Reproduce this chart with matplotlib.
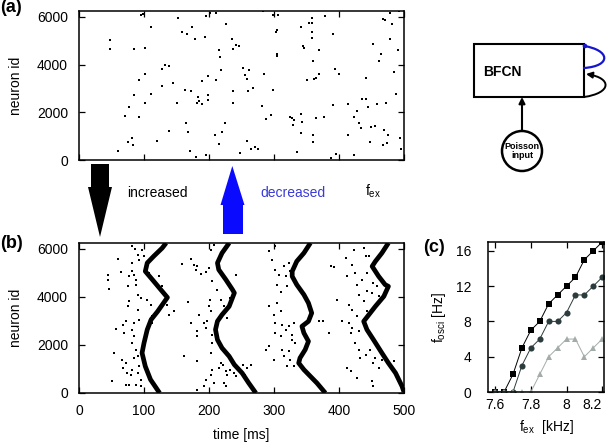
import matplotlib
matplotlib.use("Agg")
import matplotlib.pyplot as plt
from matplotlib.patches import Rectangle, Circle, Polygon, FancyArrowPatch
from matplotlib.path import Path

plt.rcParams['font.family'] = ['Liberation Sans', 'DejaVu Sans']
plt.rcParams['mathtext.fontset'] = 'custom'
plt.rcParams['mathtext.rm'] = 'Liberation Sans'
plt.rcParams['mathtext.it'] = 'Liberation Sans:italic'

# ---------------- data ----------------
# panel (a): sparse spikes (time ms, neuron id)
a_time = [47, 47, 60, 71, 75, 77, 82, 83, 84, 85, 92, 93, 96, 99, 101, 101, 102, 110, 111, 120,
          127, 128, 133, 139, 139, 145, 151, 153, 159, 163, 166, 165, 168, 171, 172, 174, 179, 180,
          183, 184, 182, 189, 189, 194, 195, 196, 199, 199, 199, 201, 209, 210, 211, 215, 216, 217,
          218, 220, 225, 226, 236, 237, 237, 237, 241, 246, 248, 253, 255, 258, 258, 260, 262, 264,
          267, 271, 276, 281, 283, 284, 287, 295, 298, 299, 303, 305, 304, 305, 306, 324, 328, 329,
          330, 336, 341, 342, 343, 342, 345, 346, 350, 354, 358, 358, 359, 359, 360, 360, 360, 361,
          365, 365, 369, 369, 377, 378, 391, 391, 394, 400, 395, 388, 414, 414, 423, 423, 428, 431,
          434, 436, 441, 441, 445, 448, 449, 453, 456, 459, 462, 465, 467, 471, 469, 468, 472, 474,
          476, 478, 479, 481, 484, 488, 491, 494, 496, 493]
a_neuron = [5047, 4670, 390, 1865, 743, 2215, 940, 630, 2706, 4670, 1823, 3365, 6100, 6140, 2383,
            3617, 4697, 5580, 2762, 813, 3827, 3098, 3995, 3925, 1234, 3225, 2411, 5958, 5370, 2916,
            5272, 1542, 1192, 393, 2874, 5580, 5089, 112, 2636, 2481, 2383, 3295, 2341, 5159, 210,
            6028, 3505, 2523, 2706, 6168, 1051, 3365, 6168, 4600, 673, 4320, 3785, 1192, 1570, 5706,
            5075, 2874, 4655, 2383, 4837, 4795, 280, 3855, 3575, 813, 3393, 2874, 3757, 449, 3014,
            561, 449, 2271, 6238, 3617, 1724, 1893, 2916, 6100, 5356, 5440, 4460, 4348, 6100, 1823,
            1753, 1473, 1683, 351, 5580, 1921, 1584, 1150, 4795, 4697, 3365, 5748, 5958, 5370, 5117,
            5748, 4164, 1051, 771, 3393, 1753, 3435, 4627, 3617, 1823, 6056, 5286, 2313, 3827, 3617,
            252, 70, 2355, 1051, 210, 1823, 2075, 1542, 1360, 2551, 2551, 3435, 2215, 771, 1402,
            4865, 1444, 2355, 4136, 4460, 5916, 5860, 1262, 630, 2411, 700, 1051, 5075, 6168, 5720,
            3673, 2762, 4627, 911, 449, 6238]

# panel (b): synchronous wave fronts (time ms, neuron id)
w1_time = [124, 110, 102, 97, 100, 105, 111, 121, 136, 126, 113, 102, 105, 115, 128, 134]
w1_neuron = [0, 560, 1110, 1670, 2080, 2640, 3060, 3400, 3980, 4300, 4720, 5070, 5420, 5700, 6040, 6250]
w2_time = [272, 261, 251, 239, 231, 220, 213, 210, 213, 220, 231, 239, 236, 226, 215, 213, 220, 231]
w2_neuron = [0, 420, 830, 1180, 1530, 1875, 2220, 2640, 2990, 3260, 3610, 4170, 4310, 4720, 5140, 5420, 5830, 6250]
w3_time = [379, 366, 356, 346, 338, 340, 348, 353, 346, 343, 353, 358, 353, 346, 335, 328, 328, 335, 346, 356]
w3_neuron = [0, 417, 694, 972, 1250, 1458, 1806, 2153, 2500, 2778, 2986, 3333, 3750, 4097, 4514, 4861, 5069, 5486, 5833, 6250]
w4_time = [500, 497, 487, 476, 466, 453, 443, 438, 446, 456, 469, 476, 471, 461, 451, 456, 466, 476]
w4_neuron = [40, 278, 833, 1250, 1667, 2222, 2639, 2986, 3264, 3611, 4028, 4444, 4514, 4861, 5278, 5486, 5833, 6250]

# panel (b): scattered spikes (time ms, neuron id)
b_time = [60, 44, 45, 46, 64, 77, 76, 77, 76, 67, 72, 69, 57, 54, 66, 67, 72, 74, 80, 51, 73, 87,
          82, 86, 90, 92, 82, 81, 85, 87, 88, 91, 95, 90, 92, 84, 81, 85, 82, 87, 85, 90, 92, 82, 90,
          95, 97, 100, 105, 108, 115, 123, 128, 110, 105, 123, 136, 146, 138, 113, 113, 118, 77, 95,
          159, 172, 177, 180, 182, 168, 185, 173, 181, 182, 162, 182, 192, 197, 195, 200, 202, 203,
          208, 195, 203, 205, 208, 192, 182, 215, 221, 226, 228, 233, 239, 246, 241, 226, 223, 218,
          203, 205, 205, 195, 200, 187, 205, 213, 218, 223, 203, 241, 233, 228,
          253, 259, 264, 256, 292, 302, 297, 302, 307, 315, 318, 323, 325, 305, 310, 320, 292, 305,
          310, 300, 302, 312, 318, 302, 310, 323, 330, 328, 333, 287, 292, 300, 312, 315, 323, 328,
          325, 330, 320, 387, 392, 410, 412, 397, 405, 415, 415, 418, 384, 376, 420, 425, 428, 430,
          423, 438, 441, 435, 443, 438, 443, 420, 428, 420, 430, 425, 430, 433, 441, 412, 418, 428,
          451, 453, 456, 453, 461, 466, 484, 448, 453, 451, 461, 459, 443, 461, 446, 451, 369]
b_neuron = [5597, 4930, 4693, 4332, 5027, 4860, 4443, 3818, 3610, 2845, 2984, 2497, 2664, 1663,
            1385, 1038, 1246, 829, 760, 482, 343, 343, 6110, 6000, 5764, 5555, 5416, 5070, 4930,
            4720, 4513, 4095, 3957, 3470, 3053, 2914, 2636, 2358, 2080, 1802, 1455, 1524, 1107, 968,
            829, 551, 5972, 5694, 5277, 4999, 4582, 4860, 4443, 3679, 3887, 3470, 3679, 3401, 3262,
            2914, 3192, 273, 343, 273,
            5388, 5583, 5347, 5138, 5277, 3776, 3262, 2914, 2567, 2358, 1552, 1316, 2914, 2984, 2706,
            3610, 3860, 5972, 6180, 551, 760, 968, 412, 273, 134, 1038, 1177, 899, 760, 968, 829,
            1038, 690, 273, 412, 1246, 1663, 2080, 2427, 5027, 5208, 4971, 4652, 4304, 3887, 3610,
            3401, 4930, 3957, 3123,
            1177, 1038, 1177, 760, 5903, 6111, 5555, 5138, 4930, 5277, 4860, 5416, 5069, 4513, 4193,
            4443, 3637, 3749, 3401, 3262, 2914, 2845, 2636, 2497, 2358, 2775, 2914, 2427, 2080, 1802,
            1941, 1386, 1802, 1524, 1733, 2219, 1386, 1107, 1107, 5277, 5249, 5625, 4860, 3887, 2984,
            3679, 2914, 2497, 2497, 2984, 5347, 5000, 4513, 4097, 5972, 6041, 5694, 4721, 4235, 3818,
            3401, 3470, 3192, 2706, 2567, 2080, 1802, 1455, 1594, 1038, 899, 621, 482, 301, 1455,
            1246, 1038, 1386, 1316, 1802, 4582, 4165, 4026, 4443, 5000, 5694, 5694, 5347, 2984]

# panel (c)
fex = [7.60, 7.65, 7.70, 7.75, 7.80, 7.85, 7.90, 7.95, 8.00, 8.05, 8.10, 8.15, 8.20]
fosc_sq = [0, 0, 2, 5, 7, 8, 10, 11, 12, 13, 15, 16, 17]
fosc_circ = [0, 0, 0, 3, 5, 6, 8, 8, 9, 11, 11, 12, 13]
fosc_tri = [0, 0, 0, 0, 0, 2, 4, 5, 6, 6, 4, 5, 6]

raster_xticks = [0, 100, 200, 300, 400, 500]
raster_yticks = [0, 2000, 4000, 6000]
c_xticks = [7.6, 7.8, 8.0, 8.2]
c_xticklabels = ['7.6', '7.8', '8', '8.2']
c_yticks = [0, 4, 8, 12, 16]

# ---------------- figure ----------------
W, H = 609, 445
fig = plt.figure(figsize=(W / 100, H / 100), dpi=100)

def px_axes(x0, y0, x1, y1):
    return fig.add_axes([x0 / W, 1 - y1 / H, (x1 - x0) / W, (y1 - y0) / H])

def style(ax, pad):
    ax.tick_params(direction='in', top=True, right=True, length=4, width=0.9,
                   labelsize=10, pad=pad)
    for s in ax.spines.values():
        s.set_linewidth(1.1)

# overlay for diagram / arrows / labels
ov = fig.add_axes([0, 0, 1, 1])
ov.set_xlim(0, W)
ov.set_ylim(H, 0)
ov.axis('off')

# (a)
axa = px_axes(79, 11, 404, 160)
axa.plot(a_time, a_neuron, 's', color='black', ms=2.1, mew=0)
axa.set_xlim(0, 500)
axa.set_ylim(0, 6250)
axa.set_xticks(raster_xticks)
axa.set_xticklabels([])
axa.set_yticks(raster_yticks)
axa.set_ylabel('neuron id', fontsize=10, labelpad=10)
style(axa, 8)

# (b)
axb = px_axes(79, 243, 404, 393)
for wt, wn in [(w1_time, w1_neuron), (w2_time, w2_neuron), (w3_time, w3_neuron), (w4_time, w4_neuron)]:
    axb.plot(wt, wn, '-', color='black', lw=3.4, solid_joinstyle='round', solid_capstyle='butt')
axb.plot(b_time, b_neuron, 's', color='black', ms=2.1, mew=0)
axb.set_xlim(0, 500)
axb.set_ylim(0, 6250)
axb.set_xticks(raster_xticks)
axb.set_yticks(raster_yticks)
axb.set_xlabel('time [ms]', fontsize=10, labelpad=7)
axb.set_ylabel('neuron id', fontsize=10, labelpad=10)
style(axb, 8)

# (c)
axc = px_axes(488, 242, 604, 392)
axc.plot(fex, fosc_sq, '-s', color='black', ms=4.2, lw=0.7, mew=0)
axc.plot(fex, fosc_circ, '-o', color='#2c3c3c', ms=4.4, lw=0.7, mew=0)
axc.plot(fex, fosc_tri, '-^', color='#a3aca9', ms=4.4, lw=0.7, mew=0)
axc.set_xlim(7.56, 8.21)
axc.set_ylim(0, 17)
axc.set_xticks(c_xticks)
axc.set_xticklabels(c_xticklabels)
axc.set_yticks(c_yticks)
style(axc, 4)
axc.tick_params(axis='y', pad=12)
for lbl in axc.get_xticklabels()[-1:]:
    lbl.set_horizontalalignment('right')
    lbl.set_x(8.2)
axc.set_xlabel(r'f$_\mathregular{ex}$  [kHz]', fontsize=10, labelpad=5)
axc.set_ylabel(r'f$_\mathregular{osci}$ [Hz]', fontsize=10, labelpad=6)

# panel letters
ov.text(0, 8, '(a)', fontsize=13, fontweight='bold', ha='left', va='center')
ov.text(0, 244, '(b)', fontsize=13, fontweight='bold', ha='left', va='center')
ov.text(423, 247, '(c)', fontsize=13, fontweight='bold', ha='left', va='center')

# big arrows
ov.add_patch(Polygon([(91, 164), (109, 164), (109, 187), (112, 187), (100, 237), (88, 187), (91, 187)],
                     closed=True, color='black', lw=0))
ov.add_patch(Polygon([(223, 234), (243, 234), (243, 205), (244.5, 205), (232.3, 166), (220.5, 205), (223, 205)],
                     closed=True, color='#0a0aff', lw=0))
ov.text(127, 193, 'increased', fontsize=10, ha='left', va='center')
ov.text(260, 193, 'decreased', fontsize=10, ha='left', va='center', color='#3a3ad6')
ov.text(365, 191, r'f$_\mathregular{ex}$', fontsize=10, ha='left', va='center')

# network diagram
ov.add_patch(Rectangle((474, 44), 110, 53, fill=False, lw=1.5, ec='black'))
ov.text(483, 72, 'BFCN', fontsize=10, fontweight='bold', ha='left', va='center')
blue = Path([(584, 46), (610, 50), (612, 66), (584, 68)],
            [Path.MOVETO, Path.CURVE4, Path.CURVE4, Path.CURVE4])
ov.add_patch(FancyArrowPatch(path=blue, arrowstyle='-', color='#1515d0', lw=1.6))
ov.add_patch(Circle((585, 46), 2.3, color='#1515d0', lw=0))
blk = Path([(584, 97), (612, 93), (612, 78), (586, 74)],
           [Path.MOVETO, Path.CURVE4, Path.CURVE4, Path.CURVE4])
ov.add_patch(FancyArrowPatch(path=blk, arrowstyle='-|>', color='black', lw=1.4,
                             mutation_scale=9))
ov.add_patch(FancyArrowPatch((522, 132), (522, 97), arrowstyle='-|>', color='black', lw=1.5,
                             mutation_scale=9, shrinkA=0, shrinkB=0))
ov.add_patch(Circle((522, 151), 20, fill=True, fc='white', ec='black', lw=1.8))
ov.text(522, 151, 'Poisson\ninput', fontsize=6.5, fontweight='bold', ha='center', va='center',
        linespacing=0.95)

fig.savefig('out.png', dpi=100)
